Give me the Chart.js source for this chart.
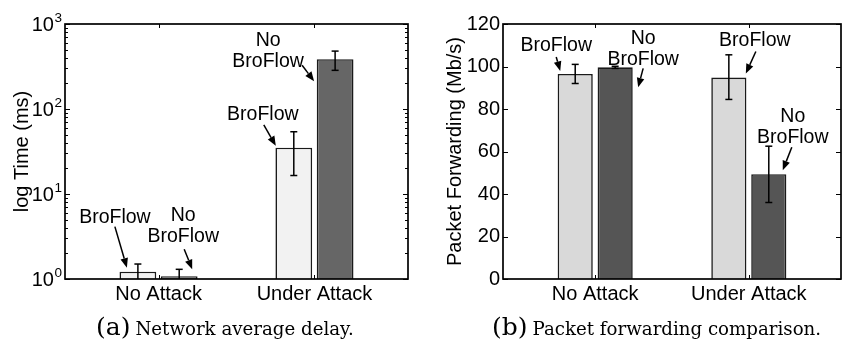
<!DOCTYPE html>
<html><head><meta charset="utf-8">
<script src="https://cdn.jsdelivr.net/npm/chart.js@4.4.1/dist/chart.umd.min.js"></script>
<style>
html,body{margin:0;padding:0;background:#fff}
body{width:846px;height:343px;overflow:hidden;position:relative}
.w{position:absolute;top:0;width:423px;height:343px}
#w1{left:0}#w2{left:423px}
.cap{position:absolute;top:313px;height:28px;font-family:'DejaVu Serif','Liberation Serif',serif;font-size:18.2px;line-height:28px;white-space:nowrap;color:#000}
.cap .l{font-size:25px;margin-right:5px}
</style></head><body>
<div class="w" id="w1"><canvas id="c1" width="423" height="343"></canvas></div>
<div class="w" id="w2"><canvas id="c2" width="423" height="343"></canvas></div>
<div class="cap" style="left:96px"><span class="l">(a)</span>Network average delay.</div>
<div class="cap" style="left:492px"><span class="l">(b)</span>Packet forwarding comparison.</div>
<script>
// ---- data ----
const categories = ['No Attack', 'Under Attack'];
const seriesNames = ['BroFlow', 'No BroFlow'];
// (a) network average delay, ms
const delayBroFlow = [1.22, 35];
const delayBroFlowLow = [0.9, 16.5];
const delayBroFlowHigh = [1.5, 54];
const delayNoBroFlow = [1.08, 385];
const delayNoBroFlowLow = [0.85, 285];
const delayNoBroFlowHigh = [1.3, 480];
const delayTicks = [1, 10, 100, 1000];
const delayTickExp = ['0', '1', '2', '3'];
// (b) packet forwarding, Mb/s
const fwdBroFlow = [96.5, 94.8];
const fwdBroFlowLow = [92, 84.5];
const fwdBroFlowHigh = [101, 105.5];
const fwdNoBroFlow = [99.6, 49.3];
const fwdNoBroFlowLow = [99.1, 36];
const fwdNoBroFlowHigh = [100.1, 62.5];
const fwdTicks = [0, 20, 40, 60, 80, 100, 120];

const SANS = "'Liberation Sans', Arial, Helvetica, sans-serif";

function pts(vals){ return vals.map((v,i)=>({x:i+1, y:v})); }

function line(ctx,x1,y1,x2,y2){ ctx.beginPath(); ctx.moveTo(x1,y1); ctx.lineTo(x2,y2); ctx.stroke(); }

function arrow(ctx,x1,y1,x2,y2){
  ctx.lineWidth = 1.5;
  const ang = Math.atan2(y2-y1, x2-x1);
  const L = 9.5, W = 3.8;
  const bx = x2 - L*Math.cos(ang), by = y2 - L*Math.sin(ang);
  line(ctx,x1,y1,bx,by);
  ctx.beginPath();
  ctx.moveTo(x2,y2);
  ctx.lineTo(bx + W*Math.sin(ang), by - W*Math.cos(ang));
  ctx.lineTo(bx - W*Math.sin(ang), by + W*Math.cos(ang));
  ctx.closePath(); ctx.fill();
}

const errPlugin = {
  id:'err',
  afterDatasetsDraw(chart, args, opts){
    const {ctx, chartArea:a} = chart;
    const ys = chart.scales.y;
    ctx.save();
    ctx.beginPath(); ctx.rect(a.left, a.top-10, a.right-a.left, a.bottom-a.top+10); ctx.clip();
    ctx.strokeStyle = '#000'; ctx.lineWidth = 1.5;
    chart.data.datasets.forEach((ds, di)=>{
      const meta = chart.getDatasetMeta(di);
      meta.data.forEach((bar, i)=>{
        const lo = ys.getPixelForValue(ds.low[i]);
        const hi = ys.getPixelForValue(ds.high[i]);
        const x = bar.x;
        line(ctx, x, Math.min(lo, a.bottom), x, hi);
        line(ctx, x-3.5, hi, x+3.5, hi);
        if (lo <= a.bottom) line(ctx, x-3.5, lo, x+3.5, lo);
      });
    });
    ctx.restore();
  }
};

const notePlugin = {
  id:'notes',
  afterDatasetsDraw(chart, args, opts){
    const {ctx} = chart;
    ctx.save();
    ctx.fillStyle = '#000'; ctx.strokeStyle = '#000';
    ctx.font = '19.5px ' + SANS;
    ctx.textAlign = 'center'; ctx.textBaseline = 'middle';
    opts.items.forEach(n=>{
      const bar = chart.getDatasetMeta(n.ds).data[n.i];
      const bx = bar.x, by = bar.y;
      const lines = n.ds === 0 ? ['BroFlow'] : ['No', 'BroFlow'];
      const lh = 21;
      const y0 = by + n.t[1] - (lines.length-1)*lh/2;
      lines.forEach((s,k)=> ctx.fillText(s, bx + n.t[0], y0 + k*lh));
      arrow(ctx, bx+n.a[0], by+n.a[1], bx+n.a[2], by+n.a[3]);
    });
    ctx.restore();
  }
};

const boxPlugin = {
  id:'box',
  afterDraw(chart, args, opts){
    const {ctx, chartArea:a} = chart;
    const xs = chart.scales.x, ys = chart.scales.y;
    ctx.save();
    ctx.strokeStyle = '#000';
    ctx.lineWidth = 1;
    opts.major.forEach(v=>{
      const p = Math.round(ys.getPixelForValue(v)) + 0.5;
      line(ctx, a.left, p, a.left+5, p); line(ctx, a.right, p, a.right-5, p);
    });
    (opts.minor||[]).forEach(v=>{
      const p = Math.round(ys.getPixelForValue(v)) + 0.5;
      line(ctx, a.left, p, a.left+3, p); line(ctx, a.right, p, a.right-3, p);
    });
    categories.forEach((c,i)=>{
      const p = Math.round(xs.getPixelForValue(i+1)) + 0.5;
      line(ctx, p, a.bottom, p, a.bottom-4); line(ctx, p, a.top, p, a.top+4);
    });
    ctx.lineWidth = 1.7;
    ctx.strokeRect(a.left, a.top, a.right-a.left, a.bottom-a.top);
    // log tick labels with superscripts
    if (opts.exp) {
      ctx.fillStyle = '#000';
      ctx.textBaseline = 'alphabetic'; ctx.textAlign = 'right';
      opts.major.forEach((v,k)=>{
        const p = ys.getPixelForValue(v);
        const xr = a.left - 3;
        ctx.font = '13.5px ' + SANS;
        const ew = ctx.measureText(opts.exp[k]).width;
        ctx.fillText(opts.exp[k], xr, p - 2);
        ctx.font = '20px ' + SANS;
        ctx.fillText('10', xr - ew - 0.5, p + 7);
      });
    }
    ctx.restore();
  }
};

function xScale(){
  return {
    type:'linear', min:0.4, max:2.6, offset:false,
    afterBuildTicks(s){ s.ticks = categories.map((c,i)=>({value:i+1})); },
    afterFit(s){ s.height = 64; },
    grid:{display:false, drawTicks:false},
    border:{display:false},
    ticks:{ color:'#000', padding:3, font:{family:SANS, size:20}, maxRotation:0, autoSkip:false,
      callback:(v)=>categories[v-1] }
  };
}

const delayMinor = [];
[1,10,100].forEach(d=>{ for(let m=2;m<=9;m++) delayMinor.push(d*m); });

new Chart(document.getElementById('c1'), {
  type:'bar',
  data:{ datasets:[
    { label:seriesNames[0], data:pts(delayBroFlow), low:delayBroFlowLow, high:delayBroFlowHigh,
      backgroundColor:'#f2f2f2', borderColor:'#1a1a1a', borderWidth:1.6 },
    { label:seriesNames[1], data:pts(delayNoBroFlow), low:delayNoBroFlowLow, high:delayNoBroFlowHigh,
      backgroundColor:'#666666', borderColor:'#1a1a1a', borderWidth:1.6 }
  ]},
  options:{
    responsive:false, animation:false, devicePixelRatio:1,
    categoryPercentage:0.53, barPercentage:0.89,
    layout:{padding:{left:0, right:15, top:24, bottom:0}},
    scales:{
      x:xScale(),
      y:{ type:'logarithmic', min:1, max:1000,
        afterFit(s){ s.width = 65; },
        grid:{display:false, drawTicks:false}, border:{display:false},
        ticks:{display:false},
        title:{display:true, text:'log Time (ms)', color:'#000', font:{family:SANS, size:20}, padding:{top:10, bottom:0}}
      }
    },
    plugins:{
      legend:{display:false}, tooltip:{enabled:false},
      box:{major:delayTicks, minor:delayMinor, exp:delayTickExp},
      notes:{items:[
        {ds:0, i:0, t:[-23,-54], a:[-23,-45,-11,-4]},
        {ds:1, i:0, t:[4,-50], a:[5,-27,13,-7]},
        {ds:0, i:1, t:[-31,-33], a:[-30,-23,-18,-2]},
        {ds:1, i:1, t:[-67,-8], a:[-33,6,-21,22]}
      ]}
    }
  },
  plugins:[errPlugin, notePlugin, boxPlugin]
});

new Chart(document.getElementById('c2'), {
  type:'bar',
  data:{ datasets:[
    { label:seriesNames[0], data:pts(fwdBroFlow), low:fwdBroFlowLow, high:fwdBroFlowHigh,
      backgroundColor:'#d9d9d9', borderColor:'#1a1a1a', borderWidth:1.6 },
    { label:seriesNames[1], data:pts(fwdNoBroFlow), low:fwdNoBroFlowLow, high:fwdNoBroFlowHigh,
      backgroundColor:'#555555', borderColor:'#1a1a1a', borderWidth:1.6 }
  ]},
  options:{
    responsive:false, animation:false, devicePixelRatio:1,
    categoryPercentage:0.52, barPercentage:0.88,
    layout:{padding:{left:0, right:5, top:24, bottom:0}},
    scales:{
      x:xScale(),
      y:{ type:'linear', min:0, max:120,
        afterBuildTicks(s){ s.ticks = fwdTicks.map(v=>({value:v})); },
        afterFit(s){ s.width = 80; },
        grid:{display:false, drawTicks:false}, border:{display:false},
        ticks:{color:'#000', padding:3, font:{family:SANS, size:20}},
        title:{display:true, text:'Packet Forwarding (Mb/s)', color:'#000', font:{family:SANS, size:20}, padding:{top:20, bottom:0}}
      }
    },
    plugins:{
      legend:{display:false}, tooltip:{enabled:false},
      box:{major:fwdTicks},
      notes:{items:[
        {ds:0, i:0, t:[-19,-28], a:[-19,-17,-15,-3]},
        {ds:1, i:0, t:[28,-18], a:[28,1,23,20]},
        {ds:0, i:1, t:[26,-37], a:[27,-26,17,-4]},
        {ds:1, i:1, t:[24,-47], a:[23,-27,14,-4]}
      ]}
    }
  },
  plugins:[errPlugin, notePlugin, boxPlugin]
});
</script>
</body></html>
